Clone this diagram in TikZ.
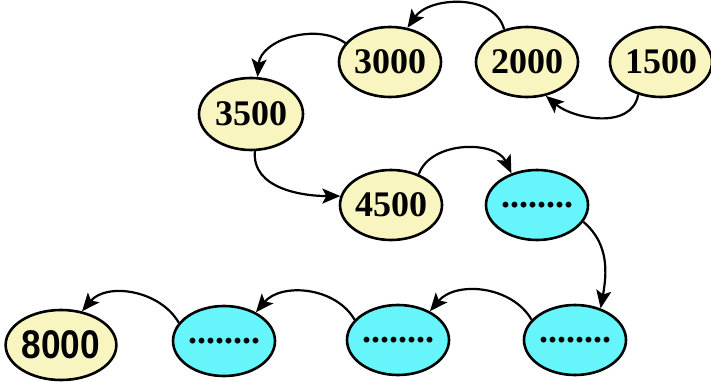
\documentclass[tikz,border=0pt]{standalone}
\usepackage{fontspec}
\setmainfont{Liberation Serif}
\setsansfont{Liberation Sans}
\usetikzlibrary{shapes.geometric,arrows.meta}
\definecolor{ylw}{RGB}{248,245,192}
\definecolor{cyn}{RGB}{102,245,250}
\tikzset{
  bubble/.style={ellipse,draw=black,line width=2.6pt,minimum width=102pt,minimum height=70pt,inner sep=0pt,
    font=\fontsize{36}{36}\selectfont\bfseries},
  yel/.style={bubble,fill=ylw},
  cy/.style={bubble,fill=cyn},
  link/.style={line width=2.2pt,-{Stealth[length=18pt,width=15pt,inset=4pt]}}
}
\begin{document}
\begin{tikzpicture}[x=1pt,y=-1pt]
\useasboundingbox (0,0) rectangle (711,382);
\node[yel] (n3000) at (390,62) {3000};
\node[yel] (n2000) at (527,62) {2000};
\node[yel] (n1500) at (661,62) {1500};
\node[yel,minimum width=104pt,minimum height=72pt] (n3500) at (251,114) {3500};
\node[yel] (n4500) at (391,205) {4500};
\node[cy] (c1) at (537,205) {........};
\node[cy] (c2) at (575,340) {........};
\node[cy] (c3) at (398,340) {........};
\node[cy] (c4) at (224,341) {........};
\node[yel,minimum width=106pt,font=\sffamily\bfseries\fontsize{40}{40}\selectfont] (n8000) at (61,345) {\scalebox{0.88}[1]{8000}};
\draw[link] (n1500.-125) to[out=-100,in=-40] (n2000.-61);
\draw[link] (n2000.125) to[out=105,in=55] (n3000.63);
\draw[link] (n3000.157) to[out=145,in=85] (n3500.80);
\draw[link] (n3500.-84) to[out=-95,in=180] (n4500.170);
\draw[link] (n4500.48) to[out=70,in=115] (c1.129);
\draw[link] (c1.-20) to[out=-40,in=80] (c2.51);
\draw[link] (c2.155) to[out=120,in=50] (c3.42);
\draw[link] (c3.155) to[out=120,in=50] (c4.42);
\draw[link] (c4.158) to[out=120,in=50] (n8000.58);
\end{tikzpicture}
\end{document}
